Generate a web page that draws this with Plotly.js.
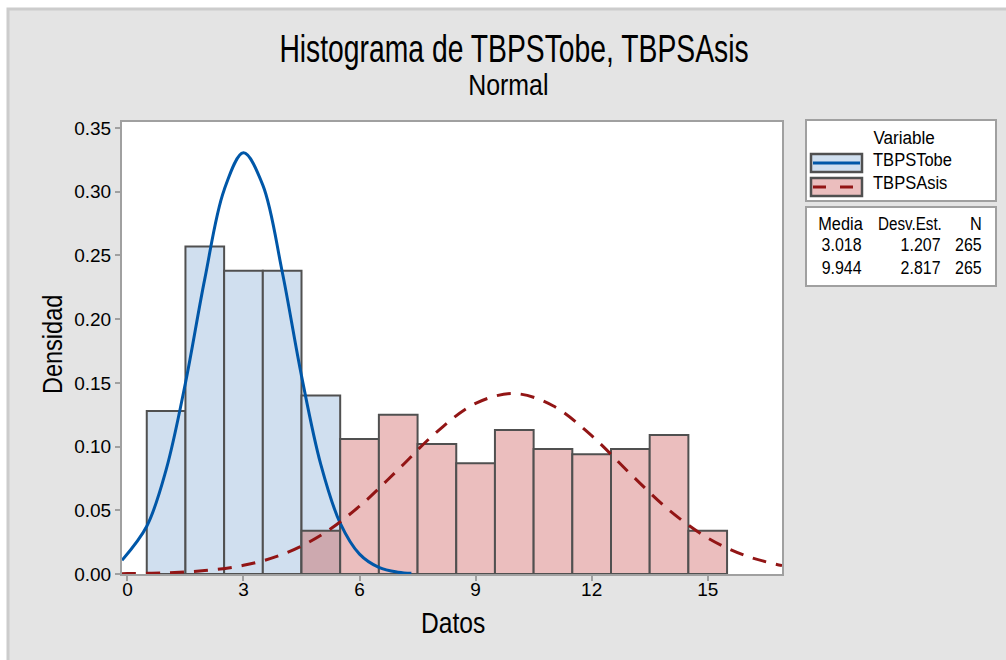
<!DOCTYPE html>
<html>
<head>
<meta charset="utf-8">
<script src="https://cdn.plot.ly/plotly-3.0.1.min.js"></script>
<style>html,body{margin:0;padding:0;background:#fff;}#chart{width:1006px;height:660px;}</style>
</head>
<body>
<div id="chart"></div>
<script>
// ---- data ----
const seriesNames = ["TBPSTobe", "TBPSAsis"];
const tobeBins = [1, 2, 3, 4, 5];
const tobeDensity = [0.128, 0.257, 0.238, 0.238, 0.140];
const asisBins = [5, 6, 7, 8, 9, 10, 11, 12, 13, 14, 15];
const asisDensity = [0.034, 0.106, 0.125, 0.102, 0.087, 0.113, 0.098, 0.094, 0.098, 0.109, 0.034];

// fitted normal curves
const tobeCurveX = [-0.14, 0.5, 1, 1.5, 2, 2.5, 3, 3.5, 4, 4.5, 5, 5.5, 6, 6.5, 7, 7.34];
const tobeCurveY = [0.0108, 0.0375, 0.0817, 0.1499, 0.2316, 0.3014, 0.3305, 0.3052, 0.2374, 0.1555, 0.0858, 0.0399, 0.0156, 0.0052, 0.0014, 0.0005];
const asisCurveX = [-0.14, 0, 1, 2, 3, 4, 5, 6, 7, 8, 9, 10, 11, 12, 13, 14, 15, 16, 16.92];
const asisCurveY = [0.0002, 0.0003, 0.0009, 0.0027, 0.0068, 0.0153, 0.0304, 0.0532, 0.0820, 0.1116, 0.1339, 0.1416, 0.1320, 0.1085, 0.0786, 0.0502, 0.0283, 0.0141, 0.0066];

const xTicks = [0, 3, 6, 9, 12, 15];
const yTicks = [0, 0.05, 0.10, 0.15, 0.20, 0.25, 0.30, 0.35];
const statHeaders = ["Media", "Desv.Est.", "N"];
const statMedia = ["3.018", "9.944"];
const statDesv = ["1.207", "2.817"];
const statN = ["265", "265"];

const titleText = "Histograma de TBPSTobe, TBPSAsis";
const subtitleText = "Normal";
const xTitle = "Datos";
const yTitle = "Densidad";
const legendTitle = "Variable";

// ---- styling / layout ----
const W = 1006, H = 660;
const M = {l: 122, r: 224, t: 122, b: 86};
const PW = W - M.l - M.r, PH = H - M.t - M.b;
const px = v => (v - M.l) / PW;
const py = v => (H - M.b - v) / PH;

const FONT = "Liberation Sans, Arial, sans-serif";
const blueFill = "#D0DFEF", pinkFill = "#EBBEBE", overlapFill = "#CDA9AF";
const edge = "#505050";
const blueLine = "#0057A8", redLine = "#921515";

const asisColors = asisBins.map((b) => tobeBins.includes(b) ? overlapFill : pinkFill);

const traces = [
  {type: "bar", x: tobeBins, y: tobeDensity, width: 1, name: seriesNames[0],
   marker: {color: blueFill, line: {color: edge, width: 2}}, showlegend: false, hoverinfo: "skip"},
  {type: "bar", x: asisBins, y: asisDensity, width: 1, name: seriesNames[1],
   marker: {color: asisColors, line: {color: edge, width: 2}}, showlegend: false, hoverinfo: "skip"},
  {type: "scatter", mode: "lines", x: tobeCurveX, y: tobeCurveY, line: {color: blueLine, width: 3, shape: "spline"},
   showlegend: false, hoverinfo: "skip"},
  {type: "scatter", mode: "lines", x: asisCurveX, y: asisCurveY, line: {color: redLine, width: 3, shape: "spline", dash: "14px,10px"},
   showlegend: false, hoverinfo: "skip"}
];

const shapes = [
  {type: "rect", xref: "paper", yref: "paper", layer: "below", x0: px(8), x1: px(1030), y0: py(9), y1: py(690),
   fillcolor: "#E4E4E4", line: {color: "#CCCCCC", width: 3}},
  {type: "rect", xref: "paper", yref: "paper", layer: "below", x0: 0, x1: 1, y0: 0, y1: 1,
   fillcolor: "#FFFFFF", line: {width: 0}},
  // legend boxes
  {type: "rect", xref: "paper", yref: "paper", x0: px(806), x1: px(996), y0: py(120), y1: py(201),
   fillcolor: "#FFFFFF", line: {color: "#A0A0A0", width: 2}},
  {type: "rect", xref: "paper", yref: "paper", x0: px(806), x1: px(996), y0: py(207), y1: py(286),
   fillcolor: "#FFFFFF", line: {color: "#A0A0A0", width: 2}},
  // legend glyphs
  {type: "rect", xref: "paper", yref: "paper", x0: px(811), x1: px(862), y0: py(154), y1: py(172),
   fillcolor: blueFill, line: {color: edge, width: 2.5}},
  {type: "line", xref: "paper", yref: "paper", x0: px(813), x1: px(860), y0: py(163), y1: py(163),
   line: {color: blueLine, width: 3}},
  {type: "rect", xref: "paper", yref: "paper", x0: px(811), x1: px(862), y0: py(178), y1: py(196),
   fillcolor: pinkFill, line: {color: edge, width: 2.5}},
  {type: "line", xref: "paper", yref: "paper", x0: px(813), x1: px(860), y0: py(187), y1: py(187),
   line: {color: redLine, width: 3, dash: "13px,14px"}}
];

const textScales = [];
function ann(text, x, y, xanchor, size, sx, extra) {
  textScales.push(sx);
  return Object.assign({text: text, xref: "paper", yref: "paper", x: px(x), y: py(y), xanchor: xanchor, yanchor: "middle",
          showarrow: false, font: {family: FONT, size: size, color: "#000"}}, extra || {});
}

const annotations = [
  ann(titleText, 513.5, 49, "center", 38, 0.745),
  ann(subtitleText, 509, 84, "center", 30, 0.83),
  ann(xTitle, 453, 622.5, "center", 30, 0.82),
  ann(yTitle, 53, 344.5, "center", 28, 0.84, {textangle: -90}),
  ann(legendTitle, 904, 137, "center", 19, 0.9),
  ann(seriesNames[0], 871, 159.5, "left", 19, 0.87),
  ann(seriesNames[1], 871, 182, "left", 19, 0.87),
  ann(statHeaders[0], 865, 223, "right", 19, 0.86),
  ann(statHeaders[1], 944, 223, "right", 19, 0.8),
  ann(statHeaders[2], 984, 223, "right", 19, 0.86),
  ann(statMedia[0], 864, 244, "right", 19, 0.84),
  ann(statDesv[0], 943, 244, "right", 19, 0.84),
  ann(statN[0], 984, 244, "right", 19, 0.84),
  ann(statMedia[1], 864, 267, "right", 19, 0.84),
  ann(statDesv[1], 943, 267, "right", 19, 0.84),
  ann(statN[1], 984, 267, "right", 19, 0.84)
];

const axisCommon = {showline: true, mirror: true, linecolor: "#A0A0A0", linewidth: 2, ticks: "outside",
  ticklen: 5, tickwidth: 2, tickcolor: "#A0A0A0", showgrid: false, zeroline: false,
  tickfont: {family: FONT, size: 19, color: "#000"}, fixedrange: true};

const layout = {
  width: W, height: H, margin: M, paper_bgcolor: "#FFFFFF", plot_bgcolor: "#FFFFFF",
  barmode: "overlay", bargap: 0, showlegend: false,
  xaxis: Object.assign({}, axisCommon, {range: [-0.14, 16.92], tickvals: xTicks, ticktext: xTicks.map(String), ticklabelstandoff: -8}),
  yaxis: Object.assign({}, axisCommon, {range: [0, 0.3547], tickvals: yTicks, ticktext: yTicks.map(v => v.toFixed(2))}),
  shapes: shapes, annotations: annotations
};

Plotly.newPlot("chart", traces, layout, {displayModeBar: false, staticPlot: true}).then(() => {
  document.querySelectorAll("#chart g.annotation").forEach((g) => {
    const i = +g.getAttribute("data-index");
    const t = g.querySelector("text");
    if (!t || isNaN(i)) return;
    const a = annotations[i];
    const origin = a.xanchor === "left" ? "left" : (a.xanchor === "right" ? "right" : "center");
    t.style.transformBox = "fill-box";
    t.style.transformOrigin = origin + " center";
    t.style.transform = "scaleX(" + textScales[i] + ")";
  });
});
</script>
</body>
</html>
